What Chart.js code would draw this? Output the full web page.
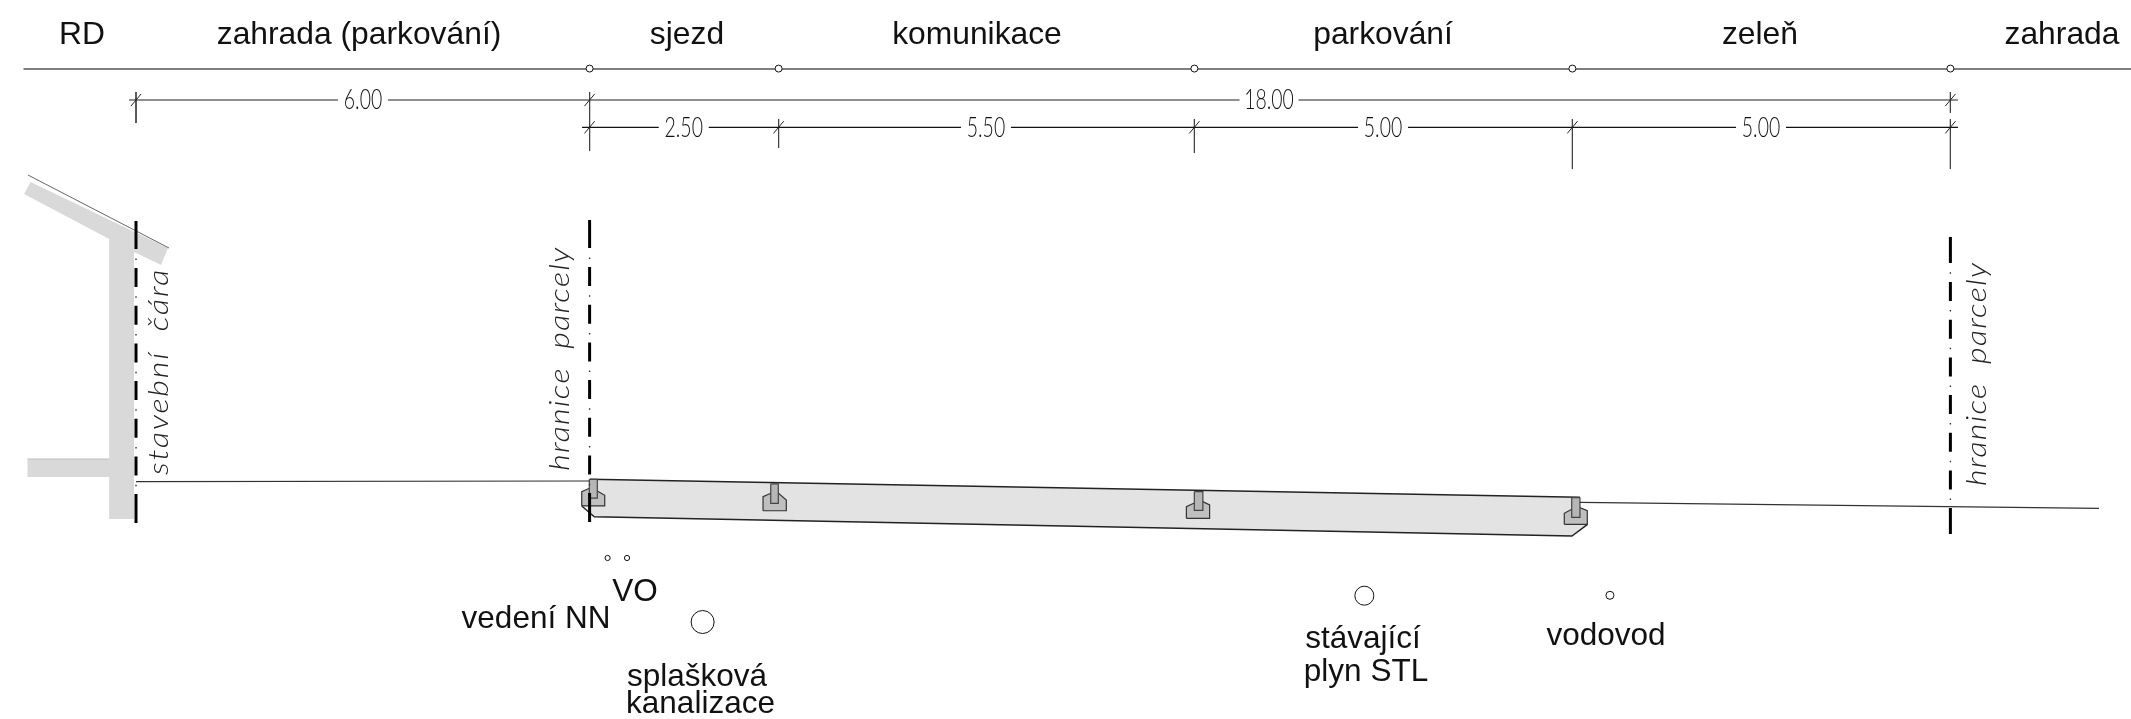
<!DOCTYPE html>
<html lang="cs">
<head>
<meta charset="utf-8">
<title>Příčný řez</title>
<script src="https://cdn.jsdelivr.net/npm/chart.js@4/dist/chart.umd.min.js"></script>
<style>html,body{margin:0;padding:0;background:#fff}canvas{display:block}</style>
</head>
<body>
<canvas id="c" width="2131" height="719"></canvas>
<script>
// Cross-section, all values in metres (x: from the building line, y: height over the terrain there)
const spanValues = [6.00, 2.50, 5.50, 5.00, 5.00];
const spanTotal = 18.00;
const zoneNames = ["RD", "zahrada (parkování)", "sjezd", "komunikace", "parkování", "zeleň", "zahrada"];
const zoneCentres = [-0.714, 2.950, 7.288, 11.124, 16.495, 21.481, 25.476];

const headerLine = [[-1.488, 5.463], [26.389, 5.463]];
const headerNodes = [[6, 5.469], [8.5, 5.469], [14, 5.469], [19, 5.469], [24, 5.469]];
const dimLineUpper = [[-0.093, 5.053], [24.10, 5.053]];
const dimLineLower = [[5.90, 4.692], [24.10, 4.692]];
const dimTicksUpper = [[0, 5.053], [6, 5.053], [24, 5.053]];
const dimTicksLower = [[6, 4.692], [8.5, 4.692], [14, 4.692], [19, 4.692], [24, 4.692]];
const extensionLines = [
  [[0, 5.159], [0, 4.749]], [[6, 5.159], [6, 4.378]], [[8.5, 4.802], [8.5, 4.418]],
  [[14, 4.802], [14, 4.352]], [[19, 4.802], [19, 4.140]], [[24, 5.159], [24, 4.881]], [[24, 4.802], [24, 4.140]]
];
const spanLabelX = [3.003, 7.245, 11.243, 16.495, 21.495];
const totalLabelX = 14.987;

const buildingOutline = [[-1.481, 3.810], [-0.355, 3.214], [-0.355, 0.304], [-1.435, 0.304], [-1.435, 0.066],
  [-0.355, 0.066], [-0.355, -0.489], [-0.026, -0.489], [-0.026, 3.042], [0.331, 2.870], [0.423, 3.095], [-1.394, 3.968]];
const roofLine = [[-1.429, 4.061], [0.437, 3.095]];
const slabLine = [[-1.435, 0.304], [-0.355, 0.304]];

const terrainLeft = [[0, 0.004], [6, 0.013]];
const terrainRight = [[19.10, -0.269], [25.966, -0.348]];
const roadBody = [[6.005, 0.036], [19.10, -0.202], [19.10, -0.370], [19.20, -0.560], [18.994, -0.714], [6.062, -0.459], [6.005, -0.397]];
const roadTop = [[6.005, 0.036], [19.10, -0.202]];
const roadBottom = [[5.896, -0.317], [6.062, -0.459], [18.994, -0.714], [19.20, -0.560]];

const kerbBases = [
  [[5.896, -0.317], [5.896, -0.128], [5.996, -0.083], [6.102, -0.119], [6.200, -0.176], [6.200, -0.317]],
  [[8.294, -0.380], [8.294, -0.194], [8.396, -0.149], [8.496, -0.146], [8.602, -0.238], [8.602, -0.380]],
  [[13.894, -0.480], [13.894, -0.327], [13.999, -0.278], [14.112, -0.261], [14.201, -0.304], [14.201, -0.480]],
  [[18.893, -0.560], [18.893, -0.414], [18.991, -0.361], [19.100, -0.340], [19.197, -0.380], [19.197, -0.560]]
];
const kerbStems = [
  [[5.996, 0.036], [5.996, -0.212], [6.102, -0.212], [6.102, 0.036]],
  [[8.396, -0.026], [8.396, -0.282], [8.496, -0.282], [8.496, -0.026]],
  [[13.999, -0.128], [13.999, -0.374], [14.112, -0.374], [14.112, -0.128]],
  [[18.991, -0.208], [18.991, -0.467], [19.100, -0.467], [19.100, -0.208]]
];

const boundaryX = [0, 6, 24];
const boundaryFirst = [[3.452, 3.082], [3.466, 3.095], [3.241, 2.897]];
const boundaryDashed = [[2.831, -0.150], [2.844, -0.140], [2.646, -0.340]];
const boundaryLast = [[-0.159, -0.542], [-0.146, -0.529], [-0.344, -0.688]];
const boundaryDots = [[2.956, -0.170], [2.970, -0.160], [2.774, -0.350]];

const utilitiesSmall = [[6.238, -1.005], [6.495, -1.005]];
const utilitySewer = [[7.495, -1.852]];
const utilityGas = [[16.248, -1.504]];
const utilityWater = [[19.497, -1.499]];

const utilityNames = ["VO", "vedení NN", "splašková", "kanalizace", "stávající", "plyn STL", "vodovod"];
const utilityNameX = [6.601, 5.291, 7.421, 7.467, 16.230, 16.270, 19.444];
const utilityNameY = [-1.570, -1.931, -2.698, -3.052, -2.200, -2.628, -2.156];
const verticalNames = ["stavební  čára", "hranice  parcely", "hranice  parcely"];
const verticalNameX = [0.425, 5.728, 24.471];
const verticalNameY = [0.093, 0.149, -0.053];
const verticalTracking = [1.6, 1.05, 1.05];

const pts = a => a.map(([x, y]) => ({x, y}));
const line = (a, color, width, extra) => Object.assign({
  type: 'line', data: pts(a), borderColor: color, borderWidth: width, pointRadius: 0,
  tension: 0, fill: false, order: 10, clip: false
}, extra || {});
const poly = (a, fillColor, stroke, width, order) => line(a.concat([a[0]]), stroke, width,
  {fill: 'shape', backgroundColor: fillColor, order});
const nodes = (a, r, order) => ({
  type: 'scatter', data: pts(a), showLine: false, pointRadius: r, pointBackgroundColor: '#fff',
  pointBorderColor: '#111', pointBorderWidth: 1, order: order || 2, clip: false
});
const ticks = a => ({
  type: 'scatter', data: pts(a), showLine: false, pointStyle: 'line', pointRadius: 8, pointRotation: -50,
  pointBorderColor: '#222', pointBorderWidth: 1, order: 3, clip: false
});

const datasets = [
  poly(buildingOutline, '#d9d9d9', 'rgba(0,0,0,0)', 0, 30),
  line(slabLine, '#bdbdbd', 1, {order: 29}),
  line(roofLine, '#666', 1, {order: 9}),
  line(headerLine, '#555', 1.4),
  nodes(headerNodes, 3.5),
  line(dimLineUpper, '#222', 1.2),
  line(dimLineLower, '#111', 1.2),
  ticks(dimTicksUpper),
  ticks(dimTicksLower),
  ...extensionLines.map(e => line(e, '#444', 1)),
  poly(roadBody, '#e3e3e3', 'rgba(0,0,0,0)', 0, 25),
  line(roadTop, '#222', 1.4, {order: 20}),
  line(roadBottom, '#222', 1.4, {order: 20}),
  line(terrainLeft, '#333', 1.2),
  line(terrainRight, '#333', 1.2),
  ...kerbBases.map(k => poly(k, '#bfbfbf', '#333', 1.2, 16)),
  ...kerbStems.map(k => poly(k, '#b6b6b6', '#444', 1.2, 15)),
  ...boundaryX.flatMap((x, i) => [
    line([[x, boundaryFirst[i][0]], [x, boundaryFirst[i][1]]], '#000', 3, {order: 5}),
    line([[x, boundaryDashed[i][0]], [x, boundaryDashed[i][1]]], '#000', 3, {order: 5, borderDash: [19, 18.7]}),
    line([[x, boundaryLast[i][0]], [x, boundaryLast[i][1]]], '#000', 3, {order: 5}),
    line([[x, boundaryDots[i][0]], [x, boundaryDots[i][1]]], '#333', 1.4, {order: 5, borderDash: [1.5, 36.2]})
  ]),
  nodes(utilitiesSmall, 2.6),
  nodes(utilitySewer, 11.5),
  nodes(utilityGas, 9.5),
  nodes(utilityWater, 4)
];

const SANS = '"Liberation Sans", Arial, sans-serif';

const textPlugin = {
  id: 'drawingText',
  afterDatasetsDraw(chart) {
    const {ctx, scales: {x, y}} = chart;
    const put = (text, vx, vy, font, color, opt) => {
      opt = opt || {};
      const px = x.getPixelForValue(vx), py = y.getPixelForValue(vy);
      ctx.save();
      ctx.font = font;
      ctx.fillStyle = color;
      ctx.textBaseline = opt.baseline || 'alphabetic';
      ctx.textAlign = opt.align || 'center';
      if (opt.spacing) ctx.letterSpacing = opt.spacing;
      if (opt.bg) {
        ctx.save();
        ctx.fillStyle = '#fff';
        ctx.fillRect(px - opt.bg / 2, py - 14, opt.bg, 28);
        ctx.restore();
      }
      ctx.translate(px, py);
      if (opt.rotate) ctx.rotate(opt.rotate);
      if (opt.sx) ctx.scale(opt.sx, 1);
      ctx.fillText(text, 0, 0);
      ctx.restore();
    };
    zoneNames.forEach((t, i) => put(t, zoneCentres[i], 5.794, '31.8px ' + SANS, '#111'));
    const dimFont = '300 27px Lato, sans-serif';
    spanValues.forEach((v, i) => put(v.toFixed(2), spanLabelX[i], i === 0 ? 5.045 : 4.684, dimFont, '#111',
      {baseline: 'middle', bg: 50, sx: 0.72}));
    put(spanTotal.toFixed(2), totalLabelX, 5.045, dimFont, '#111', {baseline: 'middle', bg: 59, sx: 0.72});
    utilityNames.forEach((t, i) => put(t, utilityNameX[i], utilityNameY[i], '31.5px ' + SANS, '#111'));
    verticalNames.forEach((t, i) => put(t, verticalNameX[i], verticalNameY[i], 'italic 300 28px Lato, sans-serif', '#222',
      {align: 'left', rotate: -Math.PI / 2, spacing: verticalTracking[i] + 'px', sx: 1.15}));
  }
};

new Chart(document.getElementById('c'), {
  type: 'scatter',
  data: {datasets},
  options: {
    responsive: false,
    devicePixelRatio: 1,
    animation: false,
    layout: {padding: 0, autoPadding: false},
    plugins: {legend: {display: false}, tooltip: {enabled: false}, title: {display: false}},
    events: [],
    scales: {
      x: {type: 'linear', display: false, min: -1.799, max: 26.389},
      y: {type: 'linear', display: false, min: -3.135, max: 6.376}
    }
  },
  plugins: [textPlugin]
});
</script>
</body>
</html>
